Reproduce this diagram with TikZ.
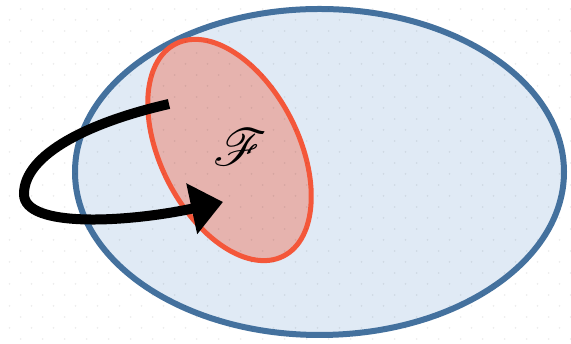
\documentclass[tikz,border=0pt]{standalone}
\usepackage{mathrsfs}
\usetikzlibrary{arrows.meta}
\definecolor{bluefill}{HTML}{E0EAF5}
\definecolor{bluestroke}{HTML}{44719E}
\definecolor{redfill}{HTML}{E6B3AE}
\definecolor{redstroke}{HTML}{F4573A}
\tikzset{
  dotmark/.style={fill=black, fill opacity=0.07, draw=none},
  outerset/.style={draw=bluestroke, fill=bluefill, line width=6pt},
  innerset/.style={draw=redstroke, fill=redfill, line width=5pt},
  maparrow/.style={line width=10pt, -{Triangle[length=32pt,width=50pt]}},
}
\begin{document}
\begin{tikzpicture}[x=1pt,y=1pt]
\useasboundingbox (0,0) rectangle (571,344);
\fill[white] (0,0) rectangle (571,344);
% outer set
\draw[outerset] (319.5,172) ellipse [x radius=244.5, y radius=163];
% inner set
\draw[innerset, rotate around={26.9:(229.5,194)}] (229.5,194) ellipse [x radius=69, y radius=119];
% dot grid
\foreach \j in {0,...,15}{
  \foreach \m in {0,...,25}{
    \fill[dotmark] ({20.7+22*\m},{344-9-22*\j}) circle (1pt);
    \fill[dotmark] ({9.5+22*\m},{344-20-22*\j}) circle (1pt);
  }
}
\node[scale=5.2, inner sep=0pt] (F) at (240,197) {$\mathscr{F}$};
\coordinate (s) at (169,240);
\coordinate (l) at (24,150);
\coordinate (t) at (223,142);
\draw[maparrow] (s) .. controls (90,222) and (24,190) .. (l)
  .. controls (24,115) and (130,122) .. (t);
\end{tikzpicture}
\end{document}
